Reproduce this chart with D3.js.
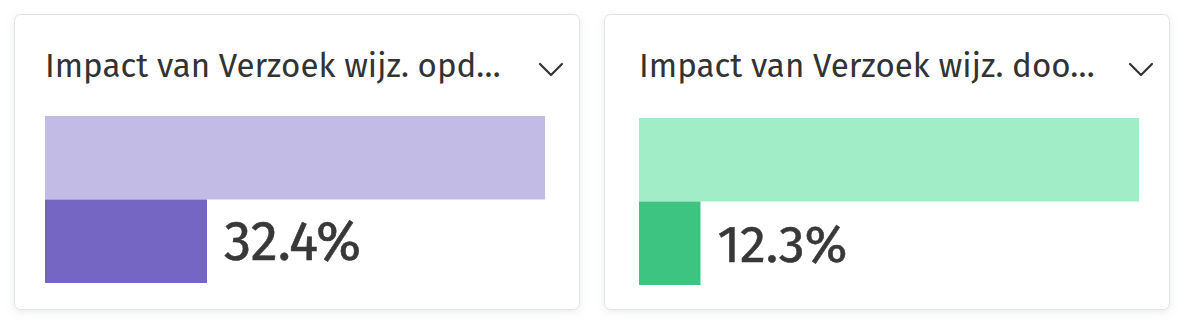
<!DOCTYPE html>
<html>
<head>
<meta charset="utf-8">
<script src="https://cdn.jsdelivr.net/npm/d3@7"></script>
<style>
  html, body { margin: 0; padding: 0; background: #ffffff; }
  svg { display: block; }
</style>
</head>
<body>
<svg id="chart" width="1190" height="326"></svg>
<script>
// ---- data ----
const titles = ["Impact van Verzoek wijz. opd\u2026", "Impact van Verzoek wijz. doo\u2026"];
const values = [32.4, 12.3];
const valueLabels = ["32.4%", "12.3%"];
const trackColors = ["#c1bbe6", "#a0edc7"];
const barColors = ["#7566c4", "#3cc480"];
const domainMax = 100;

// ---- layout ----
const svg = d3.select("#chart");
const cards = [
  { x: 14, y: 14, w: 566, h: 296, barX: 45, barTop: 116 },
  { x: 604, y: 14, w: 566, h: 296, barX: 639, barTop: 118 }
];

const defs = svg.append("defs");
const f = defs.append("filter").attr("id", "shadow").attr("x", "-10%").attr("y", "-10%").attr("width", "120%").attr("height", "130%");
f.append("feDropShadow").attr("dx", 0).attr("dy", 2).attr("stdDeviation", 4).attr("flood-color", "#8890a8").attr("flood-opacity", 0.18);

const fontFam = "'Fira Sans', 'Noto Sans', 'Open Sans', sans-serif";

function fitText(sel, targetW) {
  const node = sel.node();
  const fs = parseFloat(sel.attr("font-size"));
  const w = node.getComputedTextLength();
  if (w > 0) sel.attr("font-size", (fs * targetW / w).toFixed(2));
}

cards.forEach((c, i) => {
  const g = svg.append("g");
  g.append("rect")
    .attr("x", c.x + 0.5).attr("y", c.y + 0.5)
    .attr("width", c.w - 1).attr("height", c.h - 1)
    .attr("rx", 6).attr("ry", 6)
    .attr("fill", "#ffffff")
    .attr("stroke", "#e2e3e8").attr("stroke-width", 1)
    .attr("filter", "url(#shadow)");

  // title
  const t = g.append("text")
    .attr("x", c.barX).attr("y", c.y + 63)
    .attr("font-family", fontFam)
    .attr("font-size", 26)
    .attr("fill", "#333333")
    .text(titles[i]);
  fitText(t, 456);

  // chevron
  const cx = c.x + c.w - 29, cy = c.y + 55;
  g.append("path")
    .attr("d", `M${cx - 11},${cy - 5} L${cx},${cy + 6} L${cx + 11},${cy - 5}`)
    .attr("fill", "none").attr("stroke", "#333333").attr("stroke-width", 2.2)
    .attr("stroke-linecap", "round").attr("stroke-linejoin", "round");

  // scales
  const x = d3.scaleLinear().domain([0, domainMax]).range([c.barX, c.barX + 500]);
  const y = d3.scaleBand().domain(["track", "value"]).range([c.barTop, c.barTop + 167]).padding(0);

  g.append("rect")
    .attr("x", x(0)).attr("y", y("track"))
    .attr("width", x(domainMax) - x(0)).attr("height", y.bandwidth())
    .attr("fill", trackColors[i]);

  g.append("rect")
    .attr("x", x(0)).attr("y", y("value"))
    .attr("width", x(values[i]) - x(0)).attr("height", y.bandwidth())
    .attr("fill", barColors[i]);

  const lbl = g.append("text")
    .attr("x", x(values[i]) + 17)
    .attr("y", y("value") + 60)
    .attr("font-family", fontFam)
    .attr("font-size", 48)
    .attr("fill", "#383838")
    .attr("stroke", "#383838").attr("stroke-width", 0.6)
    .text(valueLabels[i]);
  fitText(lbl, i === 0 ? 137 : 130);
});
</script>
</body>
</html>
